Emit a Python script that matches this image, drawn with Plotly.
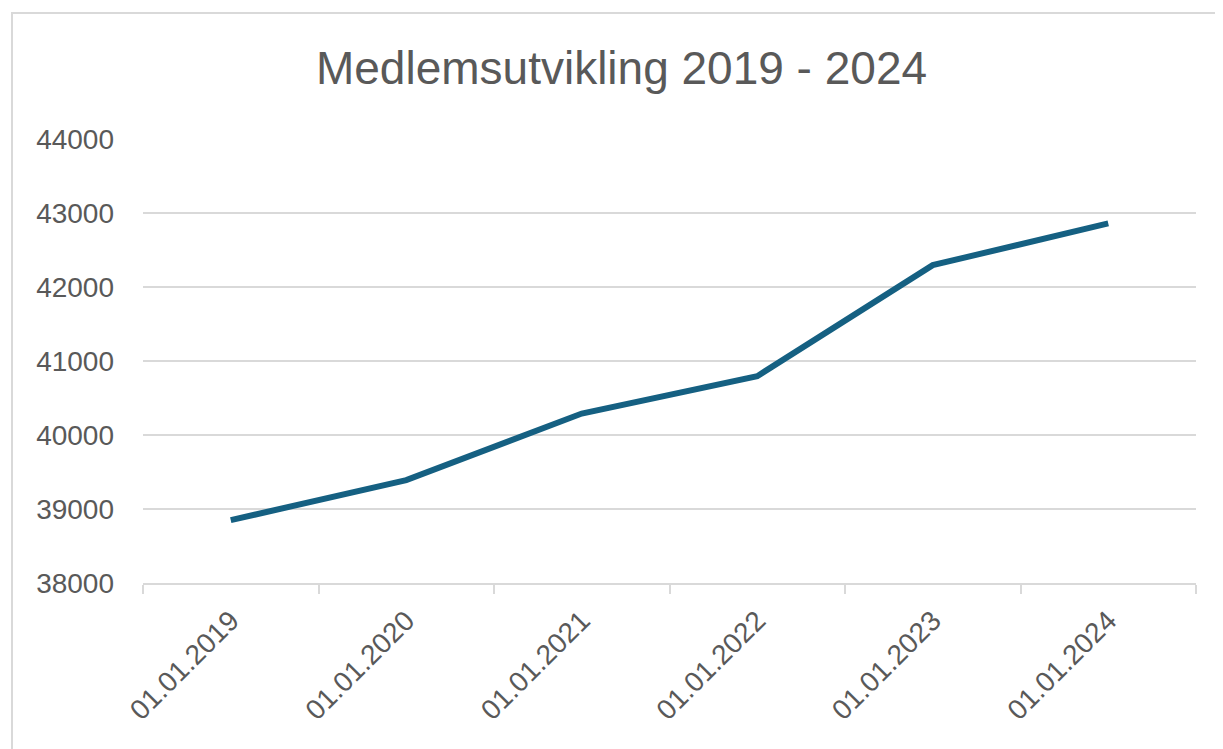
import plotly.graph_objects as go

dates = ["01.01.2019", "01.01.2020", "01.01.2021", "01.01.2022", "01.01.2023", "01.01.2024"]
members = [38850, 39390, 40290, 40795, 42295, 42860]
y_ticks = [38000, 39000, 40000, 41000, 42000, 43000, 44000]
title_text = "Medlemsutvikling 2019 - 2024"

OFF = 8  # default page body margin
W, H = 1223 - OFF, 749 - OFF
L, R, T, B = 143 - OFF, 1196 - OFF, 139 - OFF, 583 - OFF

fig = go.Figure()
fig.add_trace(go.Scatter(
    x=dates, y=members, mode="lines",
    line=dict(color="#156082", width=6),
    hoverinfo="skip",
))

def px_x(p):
    return (p - OFF - L) / (R - L)

def px_y(p):
    return (B - (p - OFF)) / (B - T)

fig.update_layout(
    width=W, height=H,
    margin=dict(l=L, r=W - R, t=T, b=H - B, autoexpand=False),
    paper_bgcolor="white", plot_bgcolor="white",
    font=dict(family="Liberation Sans, Arial, sans-serif", color="#595959"),
    showlegend=False,
    title=dict(text=title_text, x=(621.5 - OFF) / W, xanchor="center", xref="container",
               y=1 - (68 - OFF) / H, yanchor="middle", yref="container",
               font=dict(size=46, color="#595959")),
    xaxis=dict(type="category", range=[-0.5, 5.5], tickson="boundaries",
               ticks="outside", ticklen=9, tickcolor="#d9d9d9", tickwidth=2,
               showline=True, linecolor="#d9d9d9", linewidth=2,
               showgrid=False, tickangle=-45, ticklabelstandoff=8,
               tickfont=dict(size=28, color="#595959"),
               fixedrange=True),
    yaxis=dict(range=[38000, 44000], tickvals=y_ticks, ticktext=[str(v) for v in y_ticks],
               showgrid=True, gridcolor="#d9d9d9", gridwidth=2, zeroline=False,
               showline=False, ticks="", ticklabelstandoff=28,
               tickfont=dict(size=28, color="#595959"), fixedrange=True),
    shapes=[dict(type="rect", xref="paper", yref="paper",
                 x0=px_x(12), x1=px_x(1260), y0=px_y(790), y1=px_y(13),
                 line=dict(color="#d9d9d9", width=2), fillcolor="rgba(0,0,0,0)",
                 layer="below")],
)

fig.write_html("out.html", config={"displayModeBar": False})
